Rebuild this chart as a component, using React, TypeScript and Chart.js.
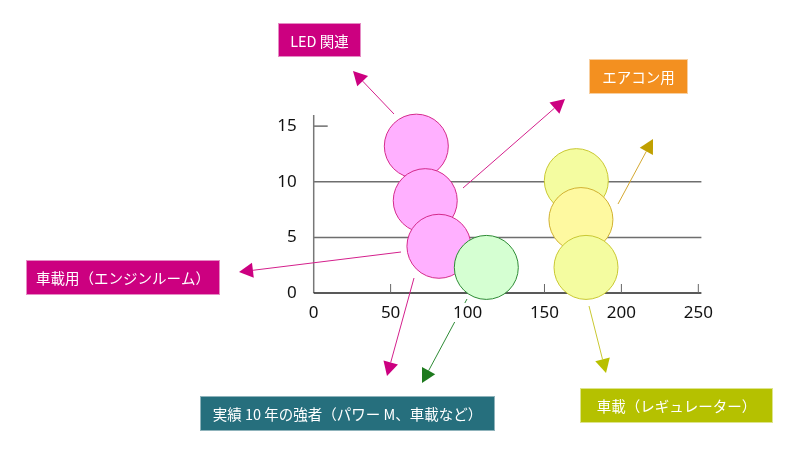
import React, { useEffect, useRef } from "react";
import { Chart, registerables } from "chart.js";

Chart.register(...registerables);

// ---- data ----
const pinkX = [66.7, 72.5, 81.4];
const pinkY = [13.2, 8.3, 4.2];
const pinkSize = [32, 32, 32];

const greenX = [112.2];
const greenY = [2.3];
const greenSize = [32];

const yellowX = [170.7, 173.7, 177.0];
const yellowY = [10.1, 6.6, 2.3];
const yellowSize = [32, 32, 32];

const xTicks = [0, 50, 100, 150, 200, 250];
const yTicks = [0, 5, 10, 15];
const gridValues = [5, 10];

const noteTexts = [
  "LED 関連",
  "エアコン用",
  "車載用（エンジンルーム）",
  "実績 10 年の強者（パワー M、車載など）",
  "車載（レギュレーター）",
];

// ---- annotation layout (pixels) ----
const MAGENTA = "#CC0080";
const noteBoxes = [
  { x: 278, y: 23, w: 83, h: 34, fill: MAGENTA, edge: "#E58CC4" },
  { x: 589, y: 59, w: 99, h: 35, fill: "#F39020", edge: "#F8CFA0" },
  { x: 26, y: 260, w: 194, h: 35, fill: MAGENTA, edge: "#E58CC4" },
  { x: 200, y: 396, w: 295, h: 35, fill: "#266F7D", edge: "#8FB3BB" },
  { x: 580, y: 388, w: 193, h: 35, fill: "#B5C100", edge: "#DDE48C" },
];

const arrows = [
  { from: [394, 114], to: [353, 71], line: "#D4208C", head: MAGENTA },
  { from: [463, 188], to: [565, 99], line: "#D4208C", head: MAGENTA },
  { from: [618, 204], to: [653, 139], line: "#D4A830", head: "#C0A000" },
  { from: [401, 252], to: [239, 272], line: "#D4208C", head: MAGENTA },
  { from: [414, 278], to: [387, 376], line: "#D4208C", head: MAGENTA },
  { from: [467, 299], to: [422, 383], line: "#2E8B35", head: "#1E7A1E", gap: [303, 322] },
  { from: [589, 306], to: [606, 373], line: "#C9C832", head: "#B8C000" },
];

const decorPlugin = {
  id: "decor",
  beforeDatasetsDraw(chart: any) {
    const { ctx, chartArea: ca, scales } = chart;
    const x = scales.x;
    const y = scales.y;
    ctx.save();
    // horizontal grid lines
    ctx.strokeStyle = "#6e6e6e";
    ctx.lineWidth = 1.5;
    for (const v of gridValues) {
      const py = y.getPixelForValue(v);
      ctx.beginPath();
      ctx.moveTo(ca.left, py);
      ctx.lineTo(ca.right, py);
      ctx.stroke();
    }
    // short tick at top value
    const p15 = y.getPixelForValue(yTicks[yTicks.length - 1]);
    ctx.beginPath();
    ctx.moveTo(ca.left, p15);
    ctx.lineTo(ca.left + 14, p15);
    ctx.stroke();
    // y axis line
    ctx.strokeStyle = "#777";
    ctx.beginPath();
    ctx.moveTo(ca.left, ca.top);
    ctx.lineTo(ca.left, ca.bottom);
    ctx.stroke();
    // x axis line
    ctx.strokeStyle = "#222";
    ctx.beginPath();
    ctx.moveTo(ca.left, ca.bottom);
    ctx.lineTo(ca.right, ca.bottom);
    ctx.stroke();
    // x tick marks (upward)
    ctx.strokeStyle = "#666";
    ctx.lineWidth = 1;
    for (const v of xTicks) {
      if (v === 0) continue;
      const px = x.getPixelForValue(v);
      ctx.beginPath();
      ctx.moveTo(px, ca.bottom);
      ctx.lineTo(px, ca.bottom - 9);
      ctx.stroke();
    }
    ctx.restore();
  },
  afterDraw(chart: any) {
    const { ctx } = chart;
    ctx.save();
    // arrows
    for (const a of arrows) {
      const [x1, y1] = a.from;
      const [x2, y2] = a.to;
      const dx = x2 - x1;
      const dy = y2 - y1;
      const len = Math.hypot(dx, dy);
      const ux = dx / len;
      const uy = dy / len;
      const headLen = 14;
      const half = 7.5;
      const bx = x2 - ux * headLen;
      const by = y2 - uy * headLen;
      ctx.strokeStyle = a.line;
      ctx.lineWidth = 1;
      if (a.gap) {
        const [g1, g2] = a.gap;
        const t1 = (g1 - y1) / dy;
        const t2 = (g2 - y1) / dy;
        ctx.beginPath();
        ctx.moveTo(x1, y1);
        ctx.lineTo(x1 + dx * t1, y1 + dy * t1);
        ctx.moveTo(x1 + dx * t2, y1 + dy * t2);
        ctx.lineTo(bx, by);
        ctx.stroke();
      } else {
        ctx.beginPath();
        ctx.moveTo(x1, y1);
        ctx.lineTo(bx, by);
        ctx.stroke();
      }
      ctx.fillStyle = a.head;
      ctx.beginPath();
      ctx.moveTo(x2, y2);
      ctx.lineTo(bx - uy * half, by + ux * half);
      ctx.lineTo(bx + uy * half, by - ux * half);
      ctx.closePath();
      ctx.fill();
    }
    // label boxes
    ctx.font = '14.5px "Noto Sans CJK JP", "Noto Sans", sans-serif';
    ctx.textAlign = "center";
    ctx.textBaseline = "middle";
    noteBoxes.forEach((b, i) => {
      ctx.fillStyle = b.fill;
      ctx.fillRect(b.x, b.y, b.w, b.h);
      ctx.strokeStyle = b.edge;
      ctx.lineWidth = 1;
      ctx.strokeRect(b.x + 0.5, b.y + 0.5, b.w - 1, b.h - 1);
      ctx.fillStyle = "#ffffff";
      ctx.fillText(noteTexts[i], b.x + b.w / 2, b.y + b.h / 2 + 1);
    });
    ctx.restore();
  },
};

const toPoints = (xs: number[], ys: number[], rs: number[]) =>
  xs.map((v, i) => ({ x: v, y: ys[i], r: rs[i] }));

export default function App() {
  const canvasRef = useRef<HTMLCanvasElement | null>(null);

  useEffect(() => {
    const canvas = canvasRef.current;
    if (!canvas) return;
    const tickFont = { family: '"Noto Sans", "DejaVu Sans", sans-serif', size: 17 };
    const chart = new Chart(canvas, {
      type: "bubble",
      data: {
        datasets: [
          {
            label: "green",
            order: 0,
            data: toPoints(greenX, greenY, greenSize),
            backgroundColor: "#D5FFD2",
            borderColor: "#2E8B35",
            borderWidth: 1,
            clip: false,
          },
          {
            label: "yellow",
            order: 1,
            data: toPoints(yellowX, yellowY, yellowSize),
            backgroundColor: ["#F4FCA0", "#FEF9A0", "#F4FCA0"],
            borderColor: ["#C9C832", "#D1B130", "#C9C832"],
            borderWidth: 1,
            clip: false,
          },
          {
            label: "pink",
            order: 2,
            data: toPoints(pinkX, pinkY, pinkSize),
            backgroundColor: "#FFB0FF",
            borderColor: "#D42A8C",
            borderWidth: 1,
            clip: false,
          },
        ] as any,
      },
      options: {
        responsive: false,
        animation: false,
        events: [],
        layout: { padding: { left: 0, right: 98.6, top: 115, bottom: 0 } },
        plugins: {
          legend: { display: false },
          tooltip: { enabled: false },
        },
        scales: {
          x: {
            type: "linear",
            min: 0,
            max: 252,
            afterBuildTicks: (s: any) => {
              s.ticks = xTicks.map((v) => ({ value: v }));
            },
            afterFit: (s: any) => {
              s.height = 450 - 293;
            },
            grid: { display: false },
            border: { display: false },
            ticks: { color: "#111", font: tickFont, padding: 2, maxRotation: 0, autoSkip: false },
          },
          y: {
            type: "linear",
            min: 0,
            max: 16,
            afterBuildTicks: (s: any) => {
              s.ticks = yTicks.map((v) => ({ value: v }));
            },
            afterFit: (s: any) => {
              s.width = 313.7;
            },
            grid: { display: false },
            border: { display: false },
            ticks: { color: "#111", font: tickFont, padding: 9, autoSkip: false },
          },
        },
      } as any,
      plugins: [decorPlugin],
    });
    return () => chart.destroy();
  }, []);

  return (
    <div style={{ position: "fixed", left: 0, top: 0, width: 800, height: 450, background: "#fff" }}>
      <canvas ref={canvasRef} width={800} height={450} style={{ display: "block" }} />
    </div>
  );
}
